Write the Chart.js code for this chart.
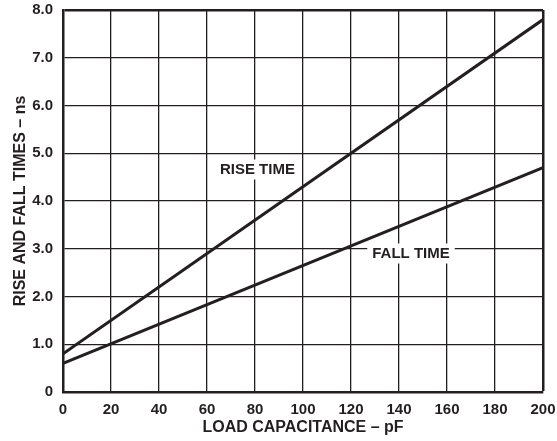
<!DOCTYPE html>
<html>
<head>
<meta charset="utf-8">
<script src="https://cdn.jsdelivr.net/npm/chart.js@4/dist/chart.umd.min.js"></script>
<style>
  html, body { margin: 0; padding: 0; background: #fff; }
  #wrap { width: 557px; height: 441px; }
</style>
</head>
<body>
<div id="wrap"><canvas id="chart" width="557" height="441"></canvas></div>
<script>
// values
var loadCap = [0, 200];
var riseTime = [0.8, 7.8];
var fallTime = [0.6, 4.7];
var xTicks = [0, 20, 40, 60, 80, 100, 120, 140, 160, 180, 200];
var yTicks = [0, 1, 2, 3, 4, 5, 6, 7, 8];
var curveLabels = ['RISE TIME', 'FALL TIME'];
var labelAt = [[81, 4.66], [145, 2.9]];

var ink = '#231f20';
var fontFam = '"Liberation Sans", Arial, Helvetica, sans-serif';

var toPoints = function(xs, ys) {
    return xs.map(function(x, i) { return { x: x, y: ys[i] }; });
};

// white-boxed text labels sitting on the grid
var curveLabelPlugin = {
    id: 'curveLabels',
    beforeDatasetsDraw: function(chart) {
        var ctx = chart.ctx;
        var xs = chart.scales.x, ys = chart.scales.y;
        ctx.save();
        ctx.font = 'bold 15px ' + fontFam;
        ctx.textAlign = 'center';
        ctx.textBaseline = 'middle';
        for (var i in curveLabels) {
            var px = xs.getPixelForValue(labelAt[i][0]);
            var py = ys.getPixelForValue(labelAt[i][1]);
            var w = ctx.measureText(curveLabels[i]).width;
            ctx.fillStyle = '#fff';
            ctx.fillRect(px - w / 2 - 5, py - 10, w + 10, 20);
            ctx.fillStyle = ink;
            ctx.fillText(curveLabels[i], px, py);
        }
        ctx.restore();
    }
};

var chart = new Chart(document.getElementById('chart').getContext('2d'), {
    type: 'line',
    data: {
        datasets: [{
            label: 'Rise time',
            data: toPoints(loadCap, riseTime),
            borderColor: ink,
            borderWidth: 3,
            pointRadius: 0,
            fill: false
        }, {
            label: 'Fall time',
            data: toPoints(loadCap, fallTime),
            borderColor: ink,
            borderWidth: 3,
            pointRadius: 0,
            fill: false
        }]
    },
    options: {
        responsive: false,
        animation: false,
        layout: { padding: { top: 10, right: 14, left: 0, bottom: 0 } },
        plugins: {
            legend: { display: false },
            tooltip: { enabled: false }
        },
        scales: {
            x: {
                type: 'linear',
                min: 0,
                max: 200,
                afterBuildTicks: function(s) { s.ticks = xTicks.map(function(v) { return { value: v }; }); },
                afterFit: function(s) {
                    s.height = 49;
                    s.paddingLeft = 0;
                    s.paddingRight = 0;
                },
                grid: {
                    color: ink,
                    lineWidth: function(c) { return c.tick && c.tick.value === 200 ? 2.5 : 1.3; },
                    drawTicks: false
                },
                border: { color: ink, width: 2.5 },
                ticks: {
                    color: ink,
                    padding: 9,
                    maxRotation: 0,
                    font: { family: fontFam, size: 15, weight: 'bold' }
                },
                title: {
                    display: true,
                    text: 'LOAD CAPACITANCE – pF',
                    color: ink,
                    padding: { top: 0, bottom: 4 },
                    font: { family: fontFam, size: 16, weight: 'bold' }
                }
            },
            y: {
                min: 0,
                max: 8,
                afterBuildTicks: function(s) { s.ticks = yTicks.map(function(v) { return { value: v }; }); },
                afterFit: function(s) {
                    s.width = 63;
                    s.paddingTop = 0;
                    s.paddingBottom = 0;
                },
                grid: {
                    color: ink,
                    lineWidth: function(c) { return c.tick && c.tick.value === 8 ? 2.5 : 1.3; },
                    drawTicks: false
                },
                border: { color: ink, width: 2.5 },
                ticks: {
                    color: ink,
                    padding: 10,
                    font: { family: fontFam, size: 15, weight: 'bold' },
                    callback: function(v) { return v === 0 ? '0' : v.toFixed(1); }
                },
                title: {
                    display: true,
                    text: 'RISE AND FALL TIMES – ns',
                    color: ink,
                    padding: { top: 11, bottom: 0 },
                    font: { family: fontFam, size: 16, weight: 'bold' }
                }
            }
        }
    },
    plugins: [curveLabelPlugin]
});
</script>
</body>
</html>
